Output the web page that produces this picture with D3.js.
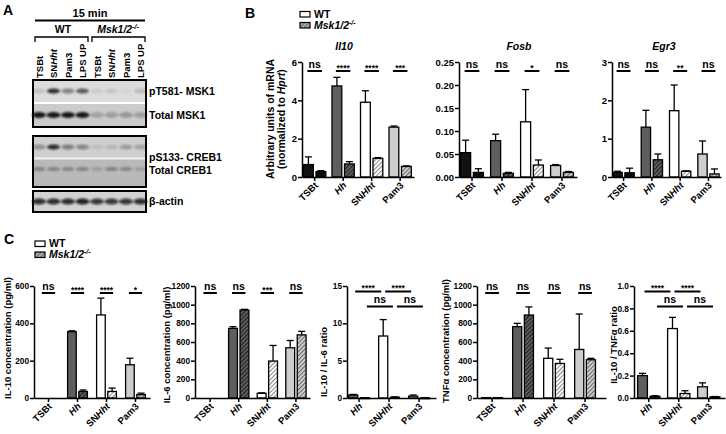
<!DOCTYPE html>
<html><head><meta charset="utf-8">
<script src="https://cdn.jsdelivr.net/npm/d3@7"></script>
<style>
body{margin:0;background:#fff}
svg{font-family:Arial,"Liberation Sans",sans-serif;font-weight:bold}
</style></head><body>
<svg id="c" width="726" height="434"></svg>
<script>
// ---------------- DATA ----------------
const laneLabels = ["TSBt","SNHht","Pam3","LPS UP","TSBt","SNHht","Pam3","LPS UP"];
const blotRows = ["pT581- MSK1","Total MSK1","pS133- CREB1","Total CREB1","β-actin"];
const pMSK1 = [0.12,0.85,0.45,0.65,0.08,0.1,0.04,0.15];
const totMSK1 = [0.95,0.95,0.95,0.95,0.2,0.22,0.25,0.22];
const pCREB1 = [0.35,0.85,0.45,0.4,0.08,0.12,0.25,0.22];
const totCREB1 = [0.3,0.3,0.28,0.3,0.15,0.3,0.28,0.15];
const actin = [0.85,0.85,0.85,0.9,0.8,0.8,0.8,0.85];

const mrnaCats = ["TSBt","Hh","SNHht","Pam3"];
const il10WT = [0.65,4.75,3.9,2.6], il10WTerr = [0.4,0.45,0.6,0.06];
const il10KO = [0.28,0.68,0.97,0.55], il10KOerr = [0.05,0.12,0.04,0.03];
const il10Sig = ["ns","****","****","***"], il10Ticks = [0,2,4,6];

const fosbWT = [0.053,0.079,0.12,0.025], fosbWTerr = [0.027,0.014,0.07,0.002];
const fosbKO = [0.01,0.008,0.026,0.01], fosbKOerr = [0.008,0.002,0.011,0.002];
const fosbSig = ["ns","ns","*","ns"], fosbTicks = [0,0.05,0.10,0.15,0.20,0.25];

const egr3WT = [0.12,1.30,1.73,0.60], egr3WTerr = [0.03,0.44,0.67,0.34];
const egr3KO = [0.11,0.45,0.15,0.08], egr3KOerr = [0.12,0.15,0.01,0.13];
const egr3Sig = ["ns","ns","**","ns"], egr3Ticks = [0,1,2,3];

const cytoCats = ["TSBt","Hh","SNHht","Pam3"];
const il10pgWT = [0,355,445,178], il10pgWTerr = [0,5,90,35];
const il10pgKO = [0,35,35,18], il10pgKOerr = [0,8,18,8];
const il10pgSig = ["ns","****","****","*"], il10pgTicks = [0,200,400,600];

const il6WT = [0,746,50,538], il6WTerr = [0,18,5,78];
const il6KO = [0,942,396,676], il6KOerr = [0,8,167,38];
const il6Sig = ["ns","ns","***","ns"], il6Ticks = [0,200,400,600,800,1000,1200];

const tnfWT = [4,764,425,520], tnfWTerr = [0,36,110,380];
const tnfKO = [4,889,370,410], tnfKOerr = [0,87,45,15];
const tnfSig = ["ns","ns","ns","ns"], tnfTicks = [0,200,400,600,800,1000,1200];

const ratioCats = ["Hh","SNHht","Pam3"];
const r6WT = [0.4,8.3,0.25], r6WTerr = [0.08,2.2,0.15];
const r6KO = [0.03,0.1,0.02], r6KOerr = [0.01,0.05,0.01];
const r6Ticks = [0,5,10,15];
const rtWT = [0.2,0.62,0.1], rtWTerr = [0.02,0.1,0.035];
const rtKO = [0.015,0.04,0.01], rtKOerr = [0.005,0.025,0.003];
const rtTicks = [0,0.2,0.4,0.6,0.8,1.0];
const ratioSigWT = [["Hh","SNHht","****"],["SNHht","Pam3","****"]];
const ratioSigKO = [["Hh","SNHht","ns"],["SNHht","Pam3","ns"]];

// ---------------- DRAW ----------------
const svg = d3.select("#c");
const defs = svg.append("defs");
function hatch(id,bg,fg){
  const p = defs.append("pattern").attr("id",id).attr("patternUnits","userSpaceOnUse")
    .attr("width",3).attr("height",3).attr("patternTransform","rotate(45)");
  p.append("rect").attr("width",3).attr("height",3).attr("fill",bg);
  p.append("line").attr("x1",0.5).attr("y1",0).attr("x2",0.5).attr("y2",3).attr("stroke",fg).attr("stroke-width",1.1);
}
hatch("hTSBt","#111","#000");
hatch("hHh","#5e5e5e","#1e1e1e");
hatch("hSNHht","#fff","#8a8a8a");
hatch("hPam3","#cdcdcd","#6a6a6a");
hatch("hLeg","#b0b0b0","#666");
const fWT = {TSBt:"#111",Hh:"#5e5e5e",SNHht:"#fff",Pam3:"#cdcdcd"};
defs.append("filter").attr("id","blur").attr("x","-50%").attr("y","-100%").attr("width","200%").attr("height","300%")
  .append("feGaussianBlur").attr("stdDeviation",1.3);

// panel letters
svg.append("text").attr("x",3).attr("y",15).attr("font-size",14).text("A");
svg.append("text").attr("x",245).attr("y",18).attr("font-size",14).text("B");
svg.append("text").attr("x",4).attr("y",244).attr("font-size",14).text("C");

// ---- Panel A ----
const gA = svg.append("g");
gA.append("text").attr("x",90).attr("y",17).attr("text-anchor","middle").attr("font-size",11).text("15 min");
gA.append("line").attr("x1",35).attr("x2",145).attr("y1",20.5).attr("y2",20.5).attr("stroke","#000").attr("stroke-width",2);
gA.append("text").attr("x",63).attr("y",33).attr("text-anchor","middle").attr("font-size",10.5).text("WT");
const mt = gA.append("text").attr("x",118).attr("y",33).attr("text-anchor","middle").attr("font-size",10.5).attr("font-style","italic");
mt.append("tspan").text("Msk1/2");
mt.append("tspan").attr("font-size",7).attr("dy",-4).text("-/-");
[[35,88],[92,145]].forEach(([a,b])=>{
  gA.append("path").attr("d",`M${a},42V37H${b}V42`).attr("fill","none").attr("stroke","#000").attr("stroke-width",1.3);
});
const lx = d3.scalePoint().domain(d3.range(8)).range([39,140.5]);
laneLabels.forEach((l,i)=>{
  const t = gA.append("text").attr("transform",`translate(${lx(i)+3.5},78) rotate(-90)`).attr("font-size",9.5);
  if(l==="SNHht"){ t.append("tspan").text("SN"); t.append("tspan").attr("font-style","italic").text("Hht"); }
  else t.text(l);
});
function blotStrip(y0,h,bg,bandY,vals,bw,bh){
  gA.append("rect").attr("x",33).attr("y",y0).attr("width",113).attr("height",h).attr("fill",bg);
  gA.append("g").attr("filter","url(#blur)").selectAll("ellipse").data(vals).join("ellipse")
    .attr("cx",(d,i)=>lx(i)).attr("cy",bandY).attr("rx",bw).attr("ry",bh)
    .attr("fill","#111").attr("opacity",d=>d);
}
blotStrip(80,23,"#dcdcdc",91,pMSK1,6.5,2.6);
blotStrip(103,24,"#cbcbcb",115,totMSK1,7,3);
gA.append("rect").attr("x",33).attr("y",102).attr("width",113).attr("height",2).attr("fill","#fff");
gA.append("rect").attr("x",33).attr("y",80).attr("width",113).attr("height",47).attr("fill","none").attr("stroke","#000").attr("stroke-width",2);
blotStrip(136,22,"#cfcfcf",147,pCREB1,6.5,2.5);
blotStrip(158,29,"#b9b9b9",169,totCREB1,6.5,2);
gA.append("rect").attr("x",33).attr("y",157.5).attr("width",113).attr("height",2).attr("fill","#f4f4f4");
gA.append("rect").attr("x",33).attr("y",136).attr("width",113).attr("height",51).attr("fill","none").attr("stroke","#000").attr("stroke-width",2);
blotStrip(191,21,"#d2d2d2",201.5,actin,7,3);
gA.append("rect").attr("x",33).attr("y",191).attr("width",113).attr("height",21).attr("fill","none").attr("stroke","#000").attr("stroke-width",2);
const rowY = [94.5,118.5,160.5,173.5,205];
blotRows.forEach((r,i)=>gA.append("text").attr("x",149).attr("y",rowY[i]).attr("font-size",10.5).text(r));

// ---- Legends ----
function legend(x,y){
  const g = svg.append("g");
  g.append("rect").attr("x",x).attr("y",y).attr("width",10).attr("height",5.5).attr("fill","#fff").attr("stroke","#000").attr("stroke-width",1.2);
  g.append("text").attr("x",x+14).attr("y",y+6).attr("font-size",10.5).text("WT");
  g.append("rect").attr("x",x).attr("y",y+11).attr("width",10).attr("height",5.5).attr("fill","url(#hLeg)").attr("stroke","#000").attr("stroke-width",1.2);
  const t = g.append("text").attr("x",x+14).attr("y",y+17).attr("font-size",10.5).attr("font-style","italic");
  t.append("tspan").text("Msk1/2"); t.append("tspan").attr("font-size",7).attr("dy",-4).text("-/-");
}
legend(300,11.5);
legend(35,241);

function catLabel(sel,c){
  if(c==="Hh") sel.append("tspan").attr("font-style","italic").text("Hh");
  else if(c==="SNHht"){ sel.append("tspan").text("SN"); sel.append("tspan").attr("font-style","italic").text("Hht"); }
  else sel.text(c);
}

function chart(o){
  const g = svg.append("g");
  const n = o.cats.length, R = o.x2-o.x1;
  const pi = 1 - o.bw/o.step, po = (R/o.step - n + pi)/2;
  const x0 = d3.scaleBand().domain(o.cats).range([o.x1,o.x2]).paddingInner(pi).paddingOuter(po).align(o.align);
  const x1 = d3.scaleBand().domain(["WT","KO"]).range([0,x0.bandwidth()]).paddingInner(0.12);
  const y = d3.scaleLinear().domain([0,o.ticks[o.ticks.length-1]]).range([o.yb,o.yt]);
  const data = o.cats.flatMap((c,i)=>[
    {c,s:"WT",v:o.wt[i],e:o.wtE[i]},{c,s:"KO",v:o.ko[i],e:o.koE[i]}]);
  const bx = d=>x0(d.c)+x1(d.s), bw = x1.bandwidth();
  const eb = g.selectAll(".eb").data(data.filter(d=>d.e>0)).join("g").attr("stroke","#000").attr("stroke-width",1.3);
  eb.append("line").attr("x1",d=>bx(d)+bw/2).attr("x2",d=>bx(d)+bw/2).attr("y1",d=>y(d.v)).attr("y2",d=>y(d.v+d.e));
  eb.append("line").attr("x1",d=>bx(d)+bw/2-3.5).attr("x2",d=>bx(d)+bw/2+3.5).attr("y1",d=>y(d.v+d.e)).attr("y2",d=>y(d.v+d.e));
  g.selectAll(".bar").data(data.filter(d=>d.v>0)).join("rect")
    .attr("x",d=>bx(d)+0.6).attr("width",bw-1.2)
    .attr("y",d=>y(d.v)).attr("height",d=>Math.max(0.8,o.yb-y(d.v)))
    .attr("fill",d=>d.s==="WT"?fWT[d.c]:`url(#h${d.c})`)
    .attr("stroke","#000").attr("stroke-width",1.3);
  const ya = g.append("g").attr("transform",`translate(${o.x1},0)`)
    .call(d3.axisLeft(y).tickValues(o.ticks).tickSize(4).tickSizeOuter(0).tickFormat(o.fmt||d3.format("d")));
  ya.select(".domain").attr("stroke-width",1.5);
  ya.selectAll(".tick line").attr("stroke-width",1.5);
  ya.selectAll("text").attr("font-size",o.tfs||9.5).attr("font-family",null).attr("font-weight","bold").attr("x",-5);
  const xa = g.append("g").attr("transform",`translate(0,${o.yb})`)
    .call(d3.axisBottom(x0).tickSize(4).tickSizeOuter(0).tickFormat(""));
  xa.select(".domain").attr("stroke-width",1.5);
  xa.selectAll(".tick line").attr("stroke-width",1.5);
  o.cats.forEach(c=>{
    const t = g.append("text").attr("font-size",9.5).attr("text-anchor","end")
      .attr("transform",`translate(${x0(c)+x0.bandwidth()/2+4},${o.yb+9}) rotate(-45)`);
    catLabel(t,c);
  });
  if(o.sig){
    o.cats.forEach((c,i)=>{
      const a = x0(c)+x1("WT")+bw/2, b = x0(c)+x1("KO")+bw/2, ly = o.yt+o.sigOff;
      g.append("line").attr("x1",a-1).attr("x2",b+1).attr("y1",ly).attr("y2",ly).attr("stroke","#000").attr("stroke-width",2);
      const s = o.sig[i];
      g.append("text").attr("x",(a+b)/2).attr("y",s==="ns"?ly-3.5:ly-0.5).attr("text-anchor","middle")
        .attr("font-size",s==="ns"?10.5:8.5).text(s);
    });
  }
  if(o.pairs){
    o.pairs.forEach(([rows,ser,off])=>rows.forEach(([p,q,s])=>{
      const a = x0(p)+x1(ser)+bw/2+2, b = x0(q)+x1(ser)+bw/2-2, ly = o.yt+off;
      g.append("line").attr("x1",a).attr("x2",b).attr("y1",ly).attr("y2",ly).attr("stroke","#000").attr("stroke-width",2);
      g.append("text").attr("x",(a+b)/2).attr("y",s==="ns"?ly-3.5:ly-0.5).attr("text-anchor","middle")
        .attr("font-size",s==="ns"?10.5:8.5).text(s);
    }));
  }
  if(o.title) g.append("text").attr("x",o.titleX).attr("y",50).attr("text-anchor","middle").attr("font-size",10.5).attr("font-style","italic").text(o.title);
  return g;
}

// Panel B
chart({cats:mrnaCats,wt:il10WT,wtE:il10WTerr,ko:il10KO,koE:il10KOerr,ticks:il10Ticks,sig:il10Sig,
  x1:302,x2:414,step:28.5,bw:23.5,align:0.3,yt:62,yb:177,sigOff:9,title:"Il10",titleX:344});
chart({cats:mrnaCats,wt:fosbWT,wtE:fosbWTerr,ko:fosbKO,koE:fosbKOerr,ticks:fosbTicks,sig:fosbSig,fmt:d3.format(".2f"),
  x1:459,x2:577,step:30,bw:24,align:0.25,yt:62,yb:177,sigOff:9,title:"Fosb",titleX:519});
chart({cats:mrnaCats,wt:egr3WT,wtE:egr3WTerr,ko:egr3KO,koE:egr3KOerr,ticks:egr3Ticks,sig:egr3Sig,
  x1:612,x2:721,step:28.3,bw:22.5,align:0.2,yt:62,yb:177,sigOff:9,title:"Egr3",titleX:664});
svg.append("text").attr("transform","translate(274,119) rotate(-90)").attr("text-anchor","middle").attr("font-size",10.5).text("Arbitrary units of mRNA");
const yl2 = svg.append("text").attr("transform","translate(285,119) rotate(-90)").attr("text-anchor","middle").attr("font-size",10.5);
yl2.append("tspan").text("(normalized to "); yl2.append("tspan").attr("font-style","italic").text("Hprt"); yl2.append("tspan").text(")");

// Panel C
chart({cats:cytoCats,wt:il10pgWT,wtE:il10pgWTerr,ko:il10pgKO,koE:il10pgKOerr,ticks:il10pgTicks,sig:il10pgSig,
  x1:34,x2:150,step:29,bw:21,align:0.5,yt:286,yb:398,sigOff:7,tfs:8.3});
chart({cats:cytoCats,wt:il6WT,wtE:il6WTerr,ko:il6KO,koE:il6KOerr,ticks:il6Ticks,sig:il6Sig,
  x1:195,x2:310,step:28.6,bw:21.5,align:0.57,yt:286,yb:398,sigOff:7,tfs:8.3});
chart({cats:ratioCats,wt:r6WT,wtE:r6WTerr,ko:r6KO,koE:r6KOerr,ticks:r6Ticks,
  pairs:[[ratioSigWT,"WT",5.5],[ratioSigKO,"KO",20.5]],
  x1:347,x2:436,step:30,bw:22,align:0.15,yt:286,yb:398,tfs:8.3});
chart({cats:cytoCats,wt:tnfWT,wtE:tnfWTerr,ko:tnfKO,koE:tnfKOerr,ticks:tnfTicks,sig:tnfSig,
  x1:477,x2:606,step:31,bw:22,align:0.29,yt:286,yb:398,sigOff:7,tfs:8.3});
chart({cats:ratioCats,wt:rtWT,wtE:rtWTerr,ko:rtKO,koE:rtKOerr,ticks:rtTicks,fmt:d3.format(".1f"),
  pairs:[[ratioSigWT,"WT",5.5],[ratioSigKO,"KO",20.5]],
  x1:634,x2:725,step:30,bw:23.5,align:0.4,yt:286,yb:398,tfs:8.3});

const cl = [[11,338,"IL-10 concentration (pg/ml)"],[170,345,"IL-6 concentration (pg/ml)"],
  [327,362,"IL-10 / IL-6 ratio"],[449,341,"TNFα concentration (pg/ml)"],[617,345,"IL-10 / TNFα ratio"]];
cl.forEach(([x,y,t])=>svg.append("text").attr("transform",`translate(${x},${y}) rotate(-90)`).attr("text-anchor","middle").attr("font-size",9.5).text(t));
</script>
</body></html>
